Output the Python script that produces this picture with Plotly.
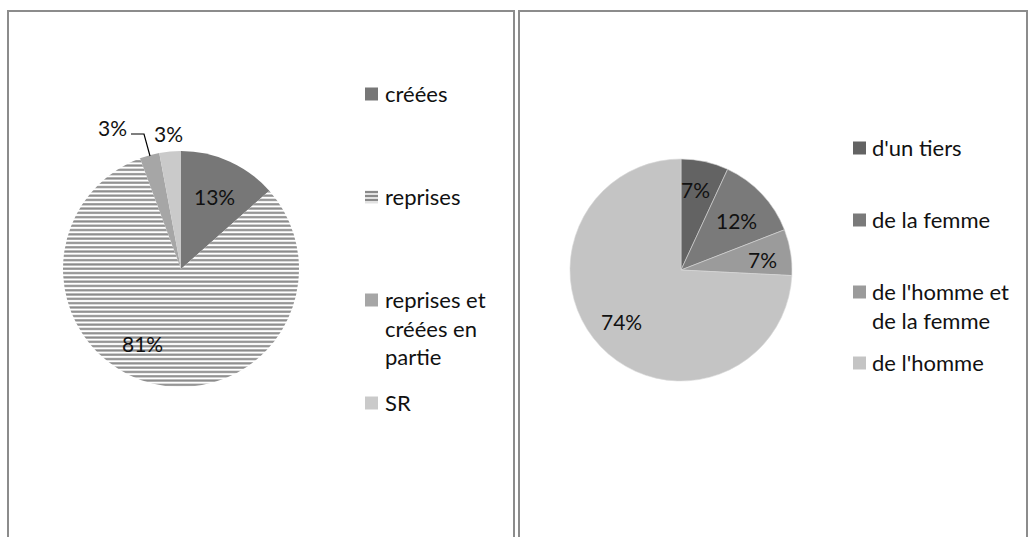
import plotly.graph_objects as go

W, H = 1028, 537

# ---- data ----
left_labels = ["créées", "reprises", "reprises et créées en partie", "SR"]
left_values = [13.45, 80.9, 2.7, 2.95]
left_colors = ["#777777", "#e2e2e2", "#a6a6a6", "#cacaca"]

right_labels = ["d'un tiers", "de la femme", "de l'homme et de la femme", "de l'homme"]
right_values = [6.9, 12.2, 6.7, 74.2]
right_colors = ["#636363", "#7a7a7a", "#9b9b9b", "#c4c4c4"]

# legend display text (line breaks as in the original)
left_legend_text = ["créées", "reprises", "reprises et<br>créées en<br>partie", "SR"]
right_legend_text = ["d'un tiers", "de la femme", "de l'homme et<br>de la femme", "de l'homme"]

FONT = "Lato"
TXT = "#111111"
LABEL_SIZE = 21
LEGEND_SIZE = 22


def px(x):
    return x / W


def py(y):
    return 1 - y / H


def pct_text(values):
    t = sum(values)
    return [f"{round(v / t * 100)}%" for v in values]


fig = go.Figure()

# left pie: centre (181,269), radius 118 px
fig.add_trace(go.Pie(
    labels=left_labels, values=left_values, sort=False, direction="clockwise",
    rotation=0, textinfo="none", hoverinfo="label+percent", showlegend=False,
    domain=dict(x=[px(63), px(299)], y=[py(387), py(151)]),
    marker=dict(colors=left_colors, line=dict(width=0),
                pattern=dict(shape=["", "-", "", ""], fgcolor="#8a8a8a",
                             size=4.3, solidity=0.5)),
))

# right pie: centre (681,270), radius 111 px
fig.add_trace(go.Pie(
    labels=right_labels, values=right_values, sort=False, direction="clockwise",
    rotation=0, textinfo="none", hoverinfo="label+percent", showlegend=False,
    domain=dict(x=[px(570), px(792)], y=[py(381), py(159)]),
    marker=dict(colors=right_colors, line=dict(width=0.6, color="#d8d8d8")),
))

annotations = []
shapes = []

# data labels (positions in pixels)
left_label_pos = [(214, 196), (142, 343), (112, 127), (168, 133)]
right_label_pos = [(695, 190), (736, 221), (762, 260), (621, 321)]
for txt, (x, y) in zip(pct_text(left_values), left_label_pos):
    annotations.append(dict(x=px(x), y=py(y), xref="paper", yref="paper", text=txt,
                            showarrow=False, font=dict(family=FONT, size=LABEL_SIZE, color=TXT),
                            xanchor="center", yanchor="middle"))
for txt, (x, y) in zip(pct_text(right_values), right_label_pos):
    annotations.append(dict(x=px(x), y=py(y), xref="paper", yref="paper", text=txt,
                            showarrow=False, font=dict(family=FONT, size=LABEL_SIZE, color=TXT),
                            xanchor="center", yanchor="middle"))

# leader line for the small slice label
shapes.append(dict(type="path", xref="paper", yref="paper",
                   path=f"M {px(131)} {py(134)} L {px(144)} {py(134)} L {px(150)} {py(156)}",
                   line=dict(color="#000000", width=1.2)))


# manual legends
def add_legend(texts, colors, sq_x, txt_x, ys, pattern_idx=None):
    for i, (t, c, y) in enumerate(zip(texts, colors, ys)):
        if pattern_idx is not None and i == pattern_idx:
            shapes.append(dict(type="rect", xref="paper", yref="paper",
                               x0=px(sq_x), x1=px(sq_x + 13), y0=py(y + 6.5), y1=py(y - 6.5),
                               fillcolor="#e2e2e2", line=dict(width=0)))
            for dy in (-5, -1, 3):
                shapes.append(dict(type="line", xref="paper", yref="paper",
                                   x0=px(sq_x), x1=px(sq_x + 13), y0=py(y + dy), y1=py(y + dy),
                                   line=dict(color="#8a8a8a", width=2)))
        else:
            shapes.append(dict(type="rect", xref="paper", yref="paper",
                               x0=px(sq_x), x1=px(sq_x + 13), y0=py(y + 6.5), y1=py(y - 6.5),
                               fillcolor=c, line=dict(width=0)))
        annotations.append(dict(x=px(txt_x), y=py(y - 16), xref="paper", yref="paper",
                                text=t, showarrow=False, align="left",
                                font=dict(family=FONT, size=LEGEND_SIZE, color=TXT),
                                xanchor="left", yanchor="top"))


add_legend(left_legend_text, left_colors, 365, 383, [94, 197, 300, 403], pattern_idx=1)
add_legend(right_legend_text, right_colors, 853, 870, [148, 220, 292, 363])

# frames around the two charts
frame = dict(color="#8c8c8c", width=2)
shapes.append(dict(type="rect", xref="paper", yref="paper",
                   x0=px(8), x1=px(514), y0=py(560), y1=py(11), line=frame))
shapes.append(dict(type="rect", xref="paper", yref="paper",
                   x0=px(519), x1=px(1027), y0=py(560), y1=py(11), line=frame))

fig.update_layout(
    width=W, height=H, margin=dict(l=0, r=0, t=0, b=0),
    paper_bgcolor="white", plot_bgcolor="white",
    annotations=annotations, shapes=shapes, showlegend=False,
    font=dict(family=FONT, color=TXT),
)

fig.write_html("out.html", config={"displayModeBar": False},
               post_script="document.body.style.margin='0';document.body.style.overflow='hidden';")
